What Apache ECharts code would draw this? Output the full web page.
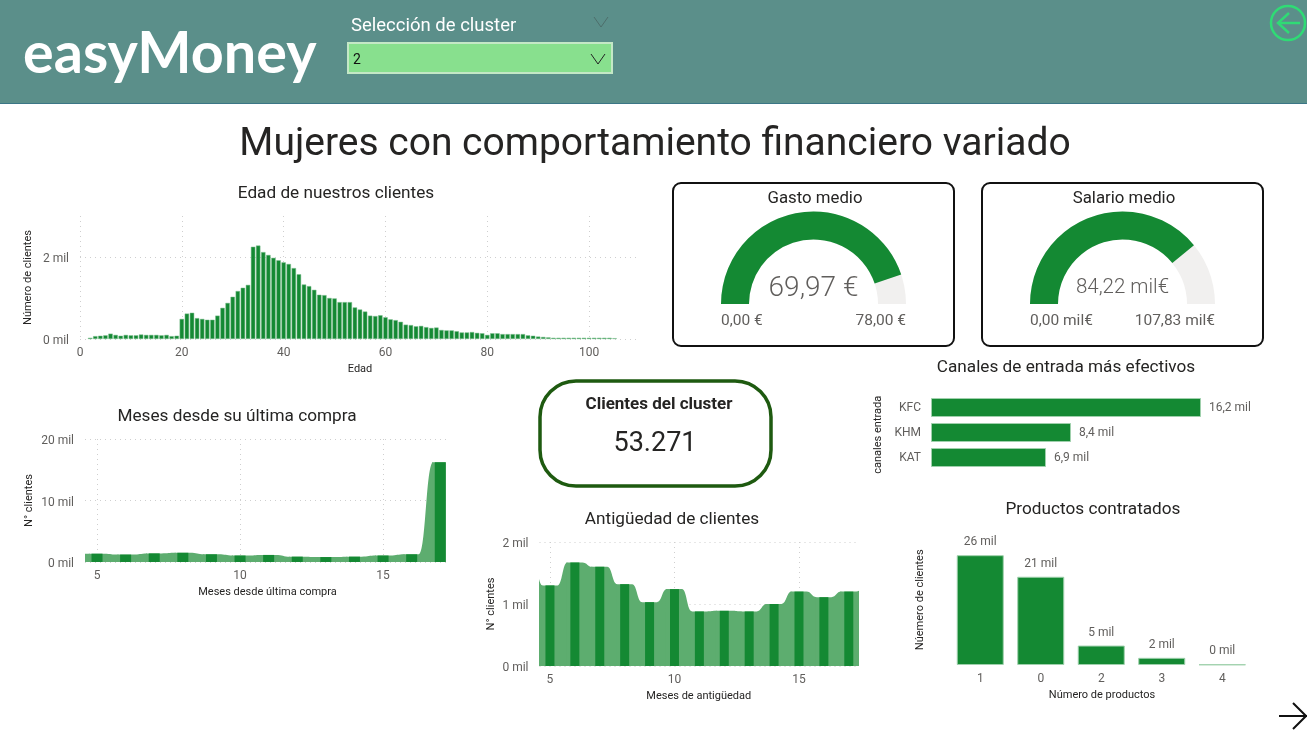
<!DOCTYPE html>
<html><head><meta charset="utf-8">
<style>html,body{margin:0;padding:0;background:#fff}#c{width:1307px;height:732px}</style>
<script src="https://cdn.jsdelivr.net/npm/echarts@6/dist/echarts.min.js"></script>
</head><body><div id="c"></div>
<script>
const edades = [2,3,4,5,6,7,8,9,10,11,12,13,14,15,16,17,18,19,20,21,22,23,24,25,26,27,28,29,30,31,32,33,34,35,36,37,38,39,40,41,42,43,44,45,46,47,48,49,50,51,52,53,54,55,56,57,58,59,60,61,62,63,64,65,66,67,68,69,70,71,72,73,74,75,76,77,78,79,80,81,82,83,84,85,86,87,88,89,90,91,92,93,94,95,96,97,98,99,100,101,102,103,104,105];
const clientesEdad = [.03,.07,.08,.09,.13,.1,.08,.1,.09,.09,.11,.1,.1,.1,.09,.1,.07,.08,.49,.62,.64,.51,.49,.47,.47,.57,.76,.88,1.03,1.17,1.25,1.32,2.25,2.28,2.12,2.05,1.98,1.92,1.87,1.83,1.73,1.58,1.33,1.29,1.2,1.08,1.07,1,.99,.9,.9,.9,.77,.72,.67,.57,.56,.58,.53,.48,.46,.42,.35,.34,.31,.32,.29,.27,.28,.22,.21,.21,.19,.16,.16,.17,.15,.14,.1,.14,.14,.12,.12,.12,.12,.12,.09,.08,.06,.05,.04,.03,.03,.03,.03,.03,.03,.03,.03,.03,.03,.03,.03,.02];
const mesesCompra = [5,6,7,8,9,10,11,12,13,14,15,16,17];
const clientesCompra = [1.35,1.2,1.4,1.5,1.25,1.05,1.15,.87,.8,.87,1.05,1.25,16.2];
const mesesCompraFondo = [4,5,6,7,8,9,10,11,12,13,14,15,16,17];
const clientesCompraFondo = [1.35,1.35,1.2,1.4,1.5,1.25,1.05,1.15,.87,.8,.87,1.05,1.25,16.2];
const mesesAntiguedad = [5,6,7,8,9,10,11,12,13,14,15,16,17];
const clientesAntiguedad = [1.3,1.67,1.6,1.32,1.03,1.24,.88,.89,.88,1,1.2,1.11,1.2];
const mesesAntiguedadFondo = [4,5,6,7,8,9,10,11,12,13,14,15,16,17,18];
const clientesAntiguedadFondo = [1.75,1.3,1.67,1.6,1.32,1.03,1.24,.88,.89,.88,1,1.2,1.11,1.2,1.3];
const ticksMeses = [5,10,15];
const canales = ['KFC','KHM','KAT'];
const clientesCanal = [16.2,8.4,6.9];
const productos = ['1','0','2','3','4'];
const clientesProducto = [26,20.9,4.6,1.7,.12];
const gastoMedio = 69.97, gastoMax = 78;
const salarioMedio = 84.22, salarioMax = 107.83;

const FONT = 'Roboto';
const GREEN = '#148933', LIGHT = '#5DAD6F', EDGE = '#9fd0ac', GREY = '#605E5C', INK = '#252423';
const grid = {lineStyle:{color:'#cfcfcf',type:[1,4],width:1}};
const milLabel = v => '{a|' + v + ' mil}';

function txt(text,x,y,size,color,align,extra){
  return {type:'text',x,y:y+1+size*.07,silent:true,rotation:(extra&&extra.rotation)||0,z:5,
    style:{text,fill:color||INK,font:((extra&&extra.weight)||'400')+' '+size+'px '+((extra&&extra.font)||FONT),textAlign:align||'center',textVerticalAlign:'middle'}};
}
function chev(x,y,w,h,color){
  return {type:'polyline',silent:true,z:5,shape:{points:[[x-w,y-h],[x,y+h],[x+w,y-h]]},style:{stroke:color,lineWidth:1,fill:null}};
}
function card(x,y,w,h,r,color,lw){
  return {type:'rect',silent:true,z:1,shape:{x,y,width:w,height:h,r},style:{fill:'#fff',stroke:color,lineWidth:lw}};
}
function xAxisBase(i,name,gap){
  return {gridIndex:i,type:'value',name,nameLocation:'middle',nameGap:gap,nameTextStyle:{fontFamily:FONT,fontSize:11,color:INK},
    axisLine:{show:false},axisTick:{show:false},splitLine:{show:true,...grid},
    axisLabel:{fontFamily:FONT,fontSize:12,color:GREY,margin:8}};
}
function yAxisBase(i,name,gap,max,interval){
  return {gridIndex:i,type:'value',min:0,max,interval,name,nameLocation:'middle',nameGap:gap,nameTextStyle:{fontFamily:FONT,fontSize:11,color:INK},
    axisLine:{show:false},axisTick:{show:false},splitLine:{show:true,...grid},
    axisLabel:{fontFamily:FONT,fontSize:12,color:GREY,margin:11,formatter:milLabel,
      rich:{a:{fontFamily:FONT,fontSize:12,color:GREY,padding:[4,0,0,0]}}}};
}
function fondo(xIdx,yIdx,xs,ys,hw,endHw){
  const data = xs.map((x,i)=>[x,ys[i]]);
  return {type:'custom',xAxisIndex:xIdx,yAxisIndex:yIdx,clip:true,silent:true,z:1,data,
    encode:{x:0,y:1},
    renderItem(params,api){
      const i = params.dataIndex;
      const y0 = api.coord([xs[i],0])[1];
      if(i===xs.length-1){
        const a = api.coord([xs[i]-hw,ys[i]]), b = api.coord([xs[i]+endHw,ys[i]]);
        return {type:'rect',shape:{x:a[0]-1,y:a[1],width:b[0]-a[0]+1,height:y0-a[1]},style:{fill:LIGHT}};
      }
      const a = api.coord([xs[i]-hw,ys[i]]);
      const b = api.coord([xs[i]+hw,ys[i]]);
      const c = api.coord([xs[i+1]-hw,ys[i+1]]);
      const m = (b[0]+c[0])/2;
      const p = `M${a[0]-1} ${y0}L${a[0]-1} ${a[1]}L${b[0]} ${b[1]}C${m} ${b[1]} ${m} ${c[1]} ${c[0]} ${c[1]}L${c[0]} ${y0}Z`;
      return {type:'path',shape:{pathData:p},style:{fill:LIGHT}};
    }};
}
const headerAndCards = [
  {type:'rect',silent:true,z:0,shape:{x:0,y:0,width:1307,height:103},style:{fill:'#5B8F8A'}},
  {type:'rect',silent:true,z:0,shape:{x:0,y:103,width:1307,height:1},style:{fill:'#3B7686'}},
  txt('easyMoney',23,49,57.5,'#fff','left',{weight:'700',font:'Lato'}),
  txt('Selección de cluster',351,24,18.5,'#fff','left'),
  chev(601,22,7,5,'#4d6e6b'),
  {type:'rect',silent:true,z:1,shape:{x:348,y:43,width:264,height:30},style:{fill:'#88E08E',stroke:'#C4E8C6',lineWidth:2}},
  txt('2',353,59,14,'#111','left'),
  chev(598,59,7,5,'#222'),
  {type:'circle',silent:true,z:3,shape:{cx:1288,cy:23,r:17},style:{fill:null,stroke:'#2FDB75',lineWidth:2.5}},
  {type:'polyline',silent:true,z:3,shape:{points:[[1300,23],[1278,23]]},style:{stroke:'#2FDB75',lineWidth:2.5,fill:null}},
  {type:'polyline',silent:true,z:3,shape:{points:[[1289,13],[1278,23],[1289,33]]},style:{stroke:'#2FDB75',lineWidth:2.5,fill:null}},
  {type:'polyline',silent:true,z:3,shape:{points:[[1279,716],[1307,716]]},style:{stroke:'#111',lineWidth:2,fill:null}},
  {type:'polyline',silent:true,z:3,shape:{points:[[1293,703],[1306,716],[1293,729]]},style:{stroke:'#111',lineWidth:2,fill:null}},
  txt('Mujeres con comportamiento financiero variado',655,142,39,INK),
  txt('Edad de nuestros clientes',336,191,17.2,INK),
  txt('Meses desde su última compra',237,414,17.2,INK),
  txt('Antigüedad de clientes',672,517,17.2,INK),
  txt('Canales de entrada más efectivos',1066,365,17.2,INK),
  txt('Productos contratados',1093,507,17.2,INK),
  card(673,183,281,163,8,'#111',2),
  card(982,183,281,163,8,'#111',2),
  txt('Gasto medio',815,197,16.8,INK),
  txt('Salario medio',1124,197,16.8,INK),
  txt('0,00 €',721,319,15.5,GREY,'left'),
  txt('78,00 €',906,319,15.5,GREY,'right'),
  txt('0,00 mil€',1030,319,15.5,GREY,'left'),
  txt('107,83 mil€',1215,319,15.5,GREY,'right'),
  card(540,381,231,105,36,'#1E5A10',3.5),
  txt('Clientes del cluster',659,403,17,INK,'center',{weight:'700'}),
  txt('53.271',655,441,27,INK),
  txt('canales entrada',878,433,11,INK,'center',{rotation:Math.PI/2}),
  txt('Núemero de clientes',920,598,11,INK,'center',{rotation:Math.PI/2}),
  txt('Número de productos',1102,693,11,INK)
];
function gauge(cx,value,max,fmt,size,offY){
  return {type:'gauge',center:[cx,304],radius:92.5,startAngle:180,endAngle:0,min:0,max,z:3,silent:true,
    axisLine:{lineStyle:{width:28,color:[[1,'#F1F0EF']]}},
    progress:{show:true,width:28,itemStyle:{color:GREEN}},
    pointer:{show:false},anchor:{show:false},axisTick:{show:false},splitLine:{show:false},axisLabel:{show:false},title:{show:false},
    detail:{formatter:fmt,offsetCenter:[0,offY],fontFamily:FONT,fontWeight:300,fontSize:size,color:GREY,valueAnimation:false},
    data:[{value}]};
}
function xMeses(i,name,min,max){
  const a = xAxisBase(i,name,25);
  a.min = min; a.max = max;
  a.axisTick.customValues = ticksMeses;
  a.axisLabel.customValues = ticksMeses;
  return a;
}
const option = {
  animation:false,backgroundColor:'#fff',
  graphic:{elements:headerAndCards},
  grid:[
    {left:80,top:216,width:560,height:123},
    {left:85,top:439,width:365,height:123},
    {left:539.5,top:542,width:318.5,height:124},
    {left:931,top:395,width:300,height:75},
    {left:950,top:540,width:302.5,height:125}
  ],
  xAxis:[
    (()=>{const a=xAxisBase(0,'Edad',25);a.min=0;a.max=110;a.interval=20;a.axisLabel.showMaxLabel=false;a.splitLine.showMaxLine=false;return a;})(),
    xMeses(1,'Meses desde última compra',4.58,17.34),
    xMeses(2,'Meses de antigüedad',4.58,17.37),
    {gridIndex:3,type:'value',min:0,max:18,show:false},
    {gridIndex:4,type:'category',data:productos,axisLine:{show:false},axisTick:{show:false},
      axisLabel:{fontFamily:FONT,fontSize:12,color:GREY,margin:8}}
  ],
  yAxis:[
    (()=>{const a=yAxisBase(0,'Número de clientes',46,3,2);a.axisLabel.showMaxLabel=false;a.splitLine.showMaxLine=false;return a;})(),
    yAxisBase(1,'N° clientes',50,20,10),
    yAxisBase(2,'N° clientes',43,2,1),
    {gridIndex:3,type:'category',inverse:true,data:canales,axisLine:{show:false},axisTick:{show:false},
      axisLabel:{fontFamily:FONT,fontSize:12,color:GREY,margin:10}},
    {gridIndex:4,type:'value',min:0,max:29.6,show:false}
  ],
  series:[
    {type:'bar',xAxisIndex:0,yAxisIndex:0,barWidth:4.4,data:edades.map((e,i)=>[e,clientesEdad[i]]),
      itemStyle:{color:GREEN,borderColor:'#7fbf90',borderWidth:.5}},
    fondo(1,1,mesesCompraFondo,clientesCompraFondo,.25,.19),
    {type:'bar',xAxisIndex:1,yAxisIndex:1,barWidth:11,z:3,data:mesesCompra.map((e,i)=>[e,clientesCompra[i]]),itemStyle:{color:GREEN}},
    fondo(2,2,mesesAntiguedadFondo,clientesAntiguedadFondo,.3,.3),
    {type:'bar',xAxisIndex:2,yAxisIndex:2,barWidth:9,z:3,data:mesesAntiguedad.map((e,i)=>[e,clientesAntiguedad[i]]),itemStyle:{color:GREEN}},
    {type:'bar',xAxisIndex:3,yAxisIndex:3,barWidth:19,data:clientesCanal,
      itemStyle:{color:GREEN,borderColor:EDGE,borderWidth:1},
      label:{show:true,position:'right',distance:8,fontFamily:FONT,fontSize:12,color:GREY,
        formatter:p=>String(p.value).replace('.',',')+' mil'}},
    {type:'bar',xAxisIndex:4,yAxisIndex:4,barWidth:47,data:clientesProducto,
      itemStyle:{color:GREEN,borderColor:EDGE,borderWidth:1},
      label:{show:true,position:'top',distance:7,fontFamily:FONT,fontSize:12,color:GREY,
        formatter:p=>Math.round(p.value)+' mil'}},
    gauge(813.5,gastoMedio,gastoMax,'69,97 €',28,-15),
    gauge(1122.5,salarioMedio,salarioMax,'84,22 mil€',20.5,-16)
  ]
};
echarts.init(document.getElementById('c'),null,{renderer:'canvas',width:1307,height:732}).setOption(option);
</script></body></html>
